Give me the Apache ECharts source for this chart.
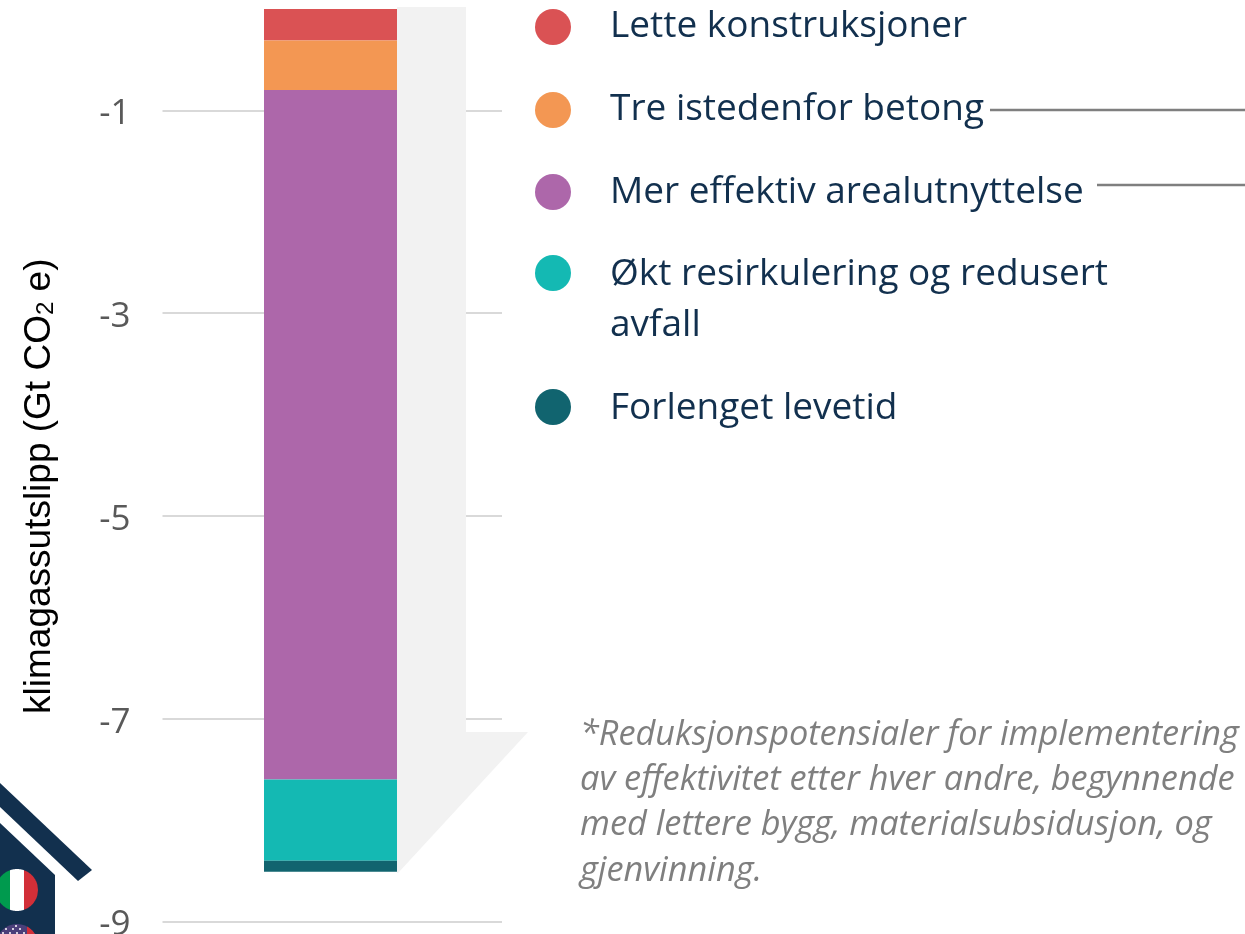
<!DOCTYPE html>
<html>
<head>
<meta charset="utf-8">
<title>Klimagassutslipp</title>
<script src="https://cdn.jsdelivr.net/npm/echarts@6/dist/echarts.min.js"></script>
<style>
html, body { margin: 0; padding: 0; background: #fff; }
#chart { width: 1245px; height: 934px; }
</style>
</head>
<body>
<div id="chart"></div>
<script>
const categories = ['Reduksjon']
const seriesNames = ['Lette konstruksjoner', 'Tre istedenfor betong', 'Mer effektiv arealutnyttelse', 'Økt resirkulering og redusert\navfall', 'Forlenget levetid']
const seriesValues = [-0.31, -0.49, -6.8, -0.8, -0.11]
const seriesColors = ['#da5254', '#f39753', '#ad67aa', '#14b9b3', '#11646f']
const tickValues = [-1, -3, -5, -7, -9]
const legendY = [27, 110, 192, 273, 407]
const legendTextY = [26, 109, 192, 274, 408]
const noteLines = [
  '*Reduksjonspotensialer for implementering',
  'av effektivitet etter hver andre, begynnende',
  'med lettere bygg, materialsubsidusjon, og',
  'gjenvinning.'
]

const navy = '#12304e'

// part of a circle between two x positions, for the flag stripes
const circleSlice = (cx, cy, r, x0, x1) => {
  const pts = []
  for (let i = 0; i <= 24; i++) {
    const x = x0 + (x1 - x0) * i / 24
    pts.push([x, cy - Math.sqrt(Math.max(0, r * r - (x - cx) * (x - cx)))])
  }
  for (let i = 24; i >= 0; i--) {
    const x = x0 + (x1 - x0) * i / 24
    pts.push([x, cy + Math.sqrt(Math.max(0, r * r - (x - cx) * (x - cx)))])
  }
  return pts
}

const legendItems = seriesNames.flatMap((name, i) => [
  { type: 'circle', shape: { cx: 553, cy: legendY[i], r: 18 }, style: { fill: seriesColors[i] } },
  {
    type: 'text', x: 610, y: legendTextY[i] - 25.5,
    style: { text: name, fill: navy, font: '37px "Open Sans"', lineHeight: 51, textVerticalAlign: 'top' }
  }
])

const noteItems = noteLines.map((line, i) => ({
  type: 'text', x: 580, y: 735 + i * 45.3,
  style: { text: line, fill: '#7f7f7f', font: 'italic 34.3px "Open Sans"', textVerticalAlign: 'middle' }
}))

// white stars on the blue part of the second flag
const flagDots = [[6, 929], [13, 929], [20, 929], [3, 933], [10, 933], [17, 933], [24, 933], [16, 926]].map(d => ({
  type: 'circle', shape: { cx: d[0], cy: d[1], r: 1 }, style: { fill: '#ffffff' }
}))

const decorations = [
  // grey arrow behind the bar
  { type: 'polygon', z: 1, shape: { points: [[397, 7], [466, 7], [466, 732], [528, 732], [398, 873], [397, 873]] }, style: { fill: '#f2f2f2' } },
  // leader lines
  { type: 'line', shape: { x1: 990, y1: 110, x2: 1245, y2: 110 }, style: { stroke: '#7f7f7f', lineWidth: 2.5 } },
  { type: 'line', shape: { x1: 1097, y1: 185, x2: 1245, y2: 185 }, style: { stroke: '#7f7f7f', lineWidth: 2.5 } },
  // house logo
  { type: 'polygon', shape: { points: [[0, 783], [92, 870], [78, 881], [0, 807]] }, style: { fill: navy } },
  { type: 'polygon', shape: { points: [[0, 823], [55, 875], [55, 934], [0, 934]] }, style: { fill: navy } },
  { type: 'polygon', shape: { points: circleSlice(17, 890, 21, -4, 10) }, style: { fill: '#009a4e' } },
  { type: 'polygon', shape: { points: circleSlice(17, 890, 21, 10, 24) }, style: { fill: '#ffffff' } },
  { type: 'polygon', shape: { points: circleSlice(17, 890, 21, 24, 38) }, style: { fill: '#d22f38' } },
  { type: 'circle', shape: { cx: 17, cy: 945, r: 21 }, style: { fill: '#4b3f7a' } },
  { type: 'polygon', shape: { points: circleSlice(17, 945, 21, 27, 38) }, style: { fill: '#d22f38' } }
]

const chart = echarts.init(document.getElementById('chart'), null, { renderer: 'canvas' })

chart.setOption({
  animation: false,
  backgroundColor: '#fff',
  grid: [
    { left: 162.5, width: 339.5, top: 9, height: 912.5, outerBoundsMode: 'none' },
    { left: 160.5, width: 340, top: 9, height: 912.5, outerBoundsMode: 'none' }
  ],
  xAxis: [
    { type: 'category', gridIndex: 0, data: categories, show: false },
    { type: 'category', gridIndex: 1, data: categories, show: false }
  ],
  yAxis: [
    {
      type: 'value',
      gridIndex: 0,
      min: -9,
      max: 0,
      name: '{a|klimagassutslipp (Gt CO}{s|2}{a| e)}',
      nameLocation: 'middle',
      nameGap: 104,
      nameTextStyle: {
        padding: [0, 0, 0, -42],
        rich: {
          a: { fontFamily: 'Liberation Sans', fontSize: 37, color: '#000' },
          s: { fontFamily: 'Liberation Sans', fontSize: 24, color: '#000', verticalAlign: 'bottom', padding: [14, 0, 0, 0] }
        }
      },
      axisLine: { show: false },
      axisTick: { show: false, customValues: tickValues },
      axisLabel: {
        customValues: tickValues,
        margin: 32,
        verticalAlign: 'top',
        lineHeight: 8,
        fontFamily: 'Open Sans',
        fontSize: 35,
        color: '#595959'
      },
      splitLine: { show: true, lineStyle: { color: '#d9d9d9', width: 2 } }
    },
    { type: 'value', gridIndex: 1, min: -9, max: 0, show: false, splitLine: { show: false } }
  ],
  series: seriesNames.map((name, i) => ({
    name,
    type: 'bar',
    stack: 'total',
    xAxisIndex: 1,
    yAxisIndex: 1,
    barWidth: 133,
    z: 3,
    itemStyle: { color: seriesColors[i] },
    data: [seriesValues[i]]
  })),
  graphic: { elements: [...decorations, ...flagDots, ...legendItems, ...noteItems] }
})
</script>
</body>
</html>
